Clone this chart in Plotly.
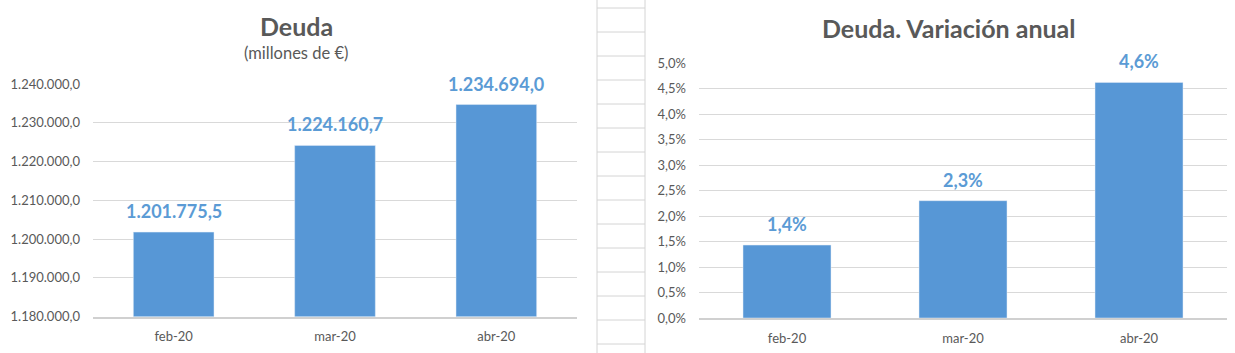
import plotly.graph_objects as go

categories = ["feb-20", "mar-20", "abr-20"]
deuda = [1201775.5, 1224160.7, 1234694.0]
variacion = [0.0143, 0.0230, 0.0462]
variacion_labels = ["1,4%", "2,3%", "4,6%"]

W, H = 1235, 353
BAR = "#5797D6"
LBL = "#5B9BD5"
TXT = "#595959"
GRID = "#D9D9D9"
FONT = "Lato"

def px(x):
    return x / W

def py(y):
    return 1 - y / H

def fmt_es(v):
    s = f"{v:,.1f}"
    return s.replace(",", "X").replace(".", ",").replace("X", ".")

fig = go.Figure()
fig.add_trace(go.Bar(x=categories, y=deuda, marker_color=BAR, width=0.5,
                     xaxis="x", yaxis="y", hoverinfo="skip"))
fig.add_trace(go.Bar(x=categories, y=variacion, marker_color=BAR, width=0.5,
                     xaxis="x2", yaxis="y2", hoverinfo="skip"))

annotations = []
for c, v in zip(categories, deuda):
    annotations.append(dict(x=c, y=v, xref="x", yref="y", text=fmt_es(v),
                            showarrow=False, yanchor="bottom", yshift=8,
                            font=dict(family=FONT, size=18, color=LBL, weight="bold")))
for c, v, t in zip(categories, variacion, variacion_labels):
    annotations.append(dict(x=c, y=v, xref="x2", yref="y2", text=t,
                            showarrow=False, yanchor="bottom", yshift=8,
                            font=dict(family=FONT, size=18, color=LBL, weight="bold")))

annotations += [
    dict(x=px(296), y=py(26), xref="paper", yref="paper", text="<b>Deuda</b>",
         showarrow=False, xanchor="center", yanchor="middle",
         font=dict(family=FONT, size=25, color=TXT)),
    dict(x=px(296), y=py(53), xref="paper", yref="paper", text="(millones de €)",
         showarrow=False, xanchor="center", yanchor="middle",
         font=dict(family=FONT, size=16.5, color=TXT)),
    dict(x=px(949), y=py(28), xref="paper", yref="paper", text="<b>Deuda. Variación anual</b>",
         showarrow=False, xanchor="center", yanchor="middle",
         font=dict(family=FONT, size=25, color=TXT)),
]

shapes = []
cell = "#D4D4D4"
shapes.append(dict(type="line", xref="paper", yref="paper", x0=px(597), x1=px(597),
                   y0=0, y1=1, line=dict(color=cell, width=1)))
shapes.append(dict(type="line", xref="paper", yref="paper", x0=px(645), x1=px(645),
                   y0=0, y1=1, line=dict(color=cell, width=1)))
for yy in range(8, 353, 24):
    shapes.append(dict(type="line", xref="paper", yref="paper", x0=px(597), x1=px(645),
                       y0=py(yy), y1=py(yy), line=dict(color=cell, width=1)))

axis_common = dict(showgrid=False, zeroline=False, showline=True, linecolor="#D0D0D0",
                   linewidth=2, ticks="", ticklabelstandoff=7, automargin=False,
                   tickfont=dict(family=FONT, size=13, color=TXT), fixedrange=True)
yaxis_common = dict(showgrid=True, gridcolor=GRID, gridwidth=1, zeroline=False,
                    showline=False, ticks="", ticklabelstandoff=12, automargin=False,
                    tickfont=dict(family=FONT, size=13, color=TXT), fixedrange=True)

fig.update_layout(
    width=W, height=H,
    margin=dict(l=0, r=0, t=0, b=0, autoexpand=False),
    paper_bgcolor="white", plot_bgcolor="white",
    showlegend=False, separators=",.",
    bargap=0.5,
    xaxis=dict(domain=[px(93), px(577)], anchor="y", **axis_common),
    yaxis=dict(domain=[py(316.5), py(84)], anchor="x", range=[1180000, 1240000],
               dtick=10000, tickformat=",.1f", **yaxis_common),
    xaxis2=dict(domain=[px(699), px(1227)], anchor="y2", **axis_common),
    yaxis2=dict(domain=[py(318), py(63)], anchor="x2", range=[0, 0.05],
                dtick=0.005, tickformat=".1%", **yaxis_common),
    annotations=annotations,
    shapes=shapes,
)

fig.write_html("out.html")
